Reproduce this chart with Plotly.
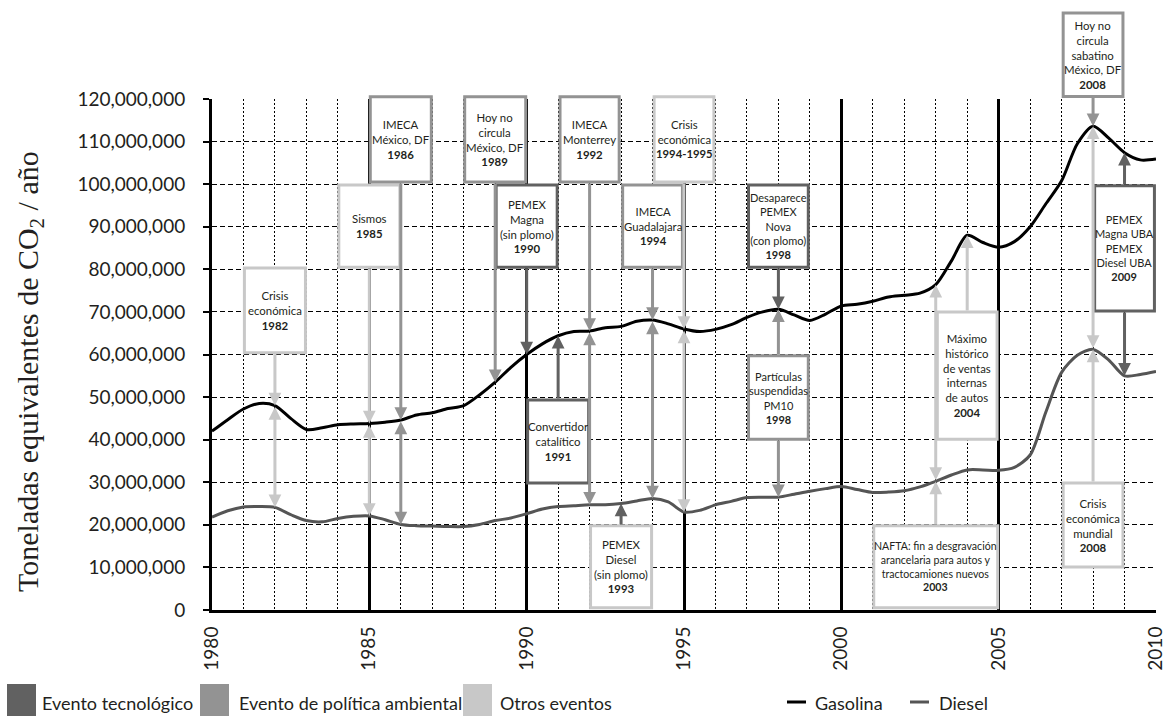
import plotly.graph_objects as go

# ---------------- data ----------------
years = [1980.0, 1980.5, 1981.0, 1981.5, 1982.0, 1982.5, 1983.0, 1983.5, 1984.0, 1984.5,
         1985.0, 1985.5, 1986.0, 1986.5, 1987.0, 1987.5, 1988.0, 1988.5, 1989.0, 1989.5,
         1990.0, 1990.5, 1991.0, 1991.5, 1992.0, 1992.5, 1993.0, 1993.5, 1994.0, 1994.5,
         1995.0, 1995.5, 1996.0, 1996.5, 1997.0, 1997.5, 1998.0, 1998.5, 1999.0, 1999.5,
         2000.0, 2000.5, 2001.0, 2001.5, 2002.0, 2002.5, 2003.0, 2003.5, 2004.0, 2004.5,
         2005.0, 2005.5, 2006.0, 2006.5, 2007.0, 2007.5, 2008.0, 2008.5, 2009.0, 2009.5,
         2010.0]

# millions of tonnes CO2 eq / year
gasolina_mt = [42.0, 44.7, 47.2, 48.5, 48.0, 45.0, 42.4, 42.8, 43.5, 43.7,
               43.8, 44.1, 44.6, 45.8, 46.3, 47.3, 48.0, 50.5, 53.5, 57.0,
               60.0, 62.5, 64.4, 65.4, 65.5, 66.3, 66.6, 67.8, 68.1, 67.2,
               66.0, 65.4, 65.9, 67.0, 68.7, 70.0, 70.6, 69.3, 68.0, 69.5,
               71.4, 71.8, 72.5, 73.5, 73.9, 74.4, 76.4, 82.0, 88.0, 86.3,
               85.2, 86.5, 90.0, 95.4, 100.8, 109.5, 113.6, 110.8, 107.4, 105.7,
               105.9]
diesel_mt = [21.8, 23.3, 24.2, 24.3, 24.1, 22.4, 21.0, 20.7, 21.5, 22.0,
             22.1, 21.2, 20.1, 19.8, 19.7, 19.6, 19.6, 20.1, 21.0, 21.6,
             22.6, 23.7, 24.3, 24.5, 24.7, 24.7, 25.0, 25.6, 26.2, 25.4,
             23.0, 23.4, 24.7, 25.5, 26.4, 26.5, 26.5, 27.2, 27.9, 28.5,
             29.0, 28.3, 27.6, 27.7, 28.0, 28.9, 30.2, 31.7, 32.9, 32.9,
             32.8, 33.5, 36.4, 46.5, 55.8, 59.8, 61.2, 58.7, 55.0, 55.3,
             56.0]

MILLION = 1_000_000
gasolina = [v * MILLION for v in gasolina_mt]
diesel = [v * MILLION for v in diesel_mt]

x_tick_years = [1980, 1985, 1990, 1995, 2000, 2005, 2010]
y_tick_values = [0, 10_000_000, 20_000_000, 30_000_000, 40_000_000, 50_000_000, 60_000_000,
                 70_000_000, 80_000_000, 90_000_000, 100_000_000, 110_000_000, 120_000_000]

event_years = [1982, 1985, 1986, 1989, 1990, 1991, 1992, 1993, 1994, 1995,
               1998, 1998, 2003, 2004, 2008, 2008, 2009]
event_labels = [
    "Crisis<br>económica<br><b>1982</b>",
    "Sismos<br><b>1985</b>",
    "IMECA<br>México, DF<br><b>1986</b>",
    "Hoy no<br>circula<br>México, DF<br><b>1989</b>",
    "PEMEX<br>Magna<br>(sin plomo)<br><b>1990</b>",
    "Convertidor<br>catalítico<br><b>1991</b>",
    "IMECA<br>Monterrey<br><b>1992</b>",
    "PEMEX<br>Diesel<br>(sin plomo)<br><b>1993</b>",
    "IMECA<br>Guadalajara<br><b>1994</b>",
    "Crisis<br>económica<br><b>1994-1995</b>",
    "Desaparece<br>PEMEX<br>Nova<br>(con plomo)<br><b>1998</b>",
    "Partículas<br>suspendidas<br>PM10<br><b>1998</b>",
    "NAFTA: fin a desgravación<br>arancelaria para autos y<br>tractocamiones nuevos<br><b>2003</b>",
    "Máximo<br>histórico<br>de ventas<br>internas<br>de autos<br><b>2004</b>",
    "Hoy no<br>circula<br>sabatino<br>México, DF<br><b>2008</b>",
    "Crisis<br>económica<br>mundial<br><b>2008</b>",
    "PEMEX<br>Magna UBA<br>PEMEX<br>Diesel UBA<br><b>2009</b>",
]
event_types = ["otros", "otros", "politica", "politica", "tecnologico", "tecnologico",
               "politica", "tecnologico", "politica", "otros", "tecnologico", "politica",
               "otros", "otros", "politica", "otros", "tecnologico"]

legend_types = ["tecnologico", "politica", "otros"]
legend_type_labels = ["Evento tecnológico", "Evento de política ambiental", "Otros eventos"]

# ---------------- layout / style ----------------
W, H = 1167, 716
L, R, T, B = 212, 11, 99, 106
PW, PH = W - L - R, H - T - B
YMAX = 120_000_000

COLORS = {"tecnologico": "#616161", "politica": "#939393", "otros": "#c8c8c8"}
TEXT_COLOR = "#231f20"
BOX_FONT = "Lato, sans-serif"
TICK_FONT = "Lato, sans-serif"

# box geometry: (half width in years, bottom [Mt], top [Mt], border-type override, font size)
box_geom = [
    (0.97, 60.4, 80.3, None, 11.4),
    (0.97, 80.5, 99.8, None, 11.4),
    (0.97, 100.5, 120.5, None, 11.4),
    (0.97, 100.5, 120.5, None, 11.4),
    (0.97, 80.5, 99.8, None, 11.4),
    (0.97, 29.8, 49.3, None, 11.4),
    (0.94, 100.5, 120.5, None, 11.4),
    (0.97, 0.5, 19.8, "otros", 11.4),
    (0.95, 80.5, 99.8, None, 11.3),
    (0.95, 100.5, 120.5, None, 11.3),
    (0.95, 80.5, 99.8, None, 11.0),
    (0.95, 40.1, 59.7, None, 11.0),
    (1.97, 0.5, 19.8, None, 10.6),
    (0.95, 40.1, 70.0, None, 11.4),
    (0.95, 120.6, 140.2, None, 11.4),
    (0.95, 10.1, 29.8, None, 11.4),
    (0.95, 70.2, 99.6, None, 11.0),
]
# arrows: (tail, tip) ; 'top'/'bottom' of box or series 'G'/'D'
arrow_specs = [
    [("bottom", "G"), ("G", "D")],
    [("bottom", "G"), ("G", "D")],
    [("bottom", "G"), ("G", "D")],
    [("bottom", "G")],
    [("bottom", "G")],
    [("top", "G")],
    [("bottom", "G"), ("G", "D")],
    [("top", "D")],
    [("bottom", "G"), ("G", "D")],
    [("bottom", "G"), ("G", "D")],
    [("bottom", "G")],
    [("top", "G"), ("bottom", "D")],
    [("top", "D"), ("D", "G")],
    [("top", "G")],
    [("bottom", "G")],
    [("top", "D"), ("D", "G")],
    [("top", "G"), ("bottom", "D")],
]

fig = go.Figure()
fig.add_trace(go.Scatter(x=years, y=gasolina, mode="lines", name="Gasolina",
                         line=dict(color="#000000", width=3, shape="spline", smoothing=0.8)))
fig.add_trace(go.Scatter(x=years, y=diesel, mode="lines", name="Diesel",
                         line=dict(color="#555555", width=3, shape="spline", smoothing=0.8)))

shapes = []
annotations = []


def series_value(name, yr):
    i = years.index(float(yr))
    return gasolina[i] if name == "G" else diesel[i]


for yr, label, etype, geom, arrows in zip(event_years, event_labels, event_types, box_geom, arrow_specs):
    hw, b_mt, t_mt, border_override, fsize = geom
    border = COLORS[border_override or etype]
    # boxes are positioned in paper units (fraction of y range) so they are not clipped at the top
    y0, y1 = b_mt * MILLION / YMAX, t_mt * MILLION / YMAX
    shapes.append(dict(type="rect", xref="x", yref="paper", x0=yr - hw, x1=yr + hw, y0=y0, y1=y1,
                       line=dict(color=border, width=3), fillcolor="white", layer="above"))
    annotations.append(dict(x=yr, y=(y0 + y1) / 2, xref="x", yref="paper", xanchor="center",
                            yanchor="middle", text=label, showarrow=False,
                            font=dict(family=BOX_FONT, size=fsize, color=TEXT_COLOR)))
    acolor = COLORS[etype]
    for tail, tip in arrows:
        tip_v = series_value(tip, yr)
        double = tail in ("G", "D")
        if tail == "top":
            tail_v = t_mt * MILLION
        elif tail == "bottom":
            tail_v = b_mt * MILLION
        else:
            tail_v = series_value(tail, yr)
        a = dict(x=yr, y=tip_v, ax=yr, ay=tail_v, xref="x", yref="y", axref="x", ayref="y",
                 text="", showarrow=True, arrowhead=2, arrowsize=0.85, arrowwidth=3,
                 arrowcolor=acolor, standoff=0, startstandoff=0)
        if double:
            a.update(arrowside="end+start", startarrowhead=2, startarrowsize=0.85)
        annotations.append(a)

# ---------------- legend (manual) ----------------
def px_x(p):
    return (p - L) / PW


def px_y(p):
    return (H - B - p) / PH


legend_square_px = [7, 200, 463]
legend_text_px = [40, 237, 498]
for t, lab, sx, tx in zip(legend_types, legend_type_labels, legend_square_px, legend_text_px):
    shapes.append(dict(type="rect", xref="paper", yref="paper", x0=px_x(sx), x1=px_x(sx + 29),
                       y0=px_y(684), y1=px_y(720), line=dict(width=0), fillcolor=COLORS[t]))
    annotations.append(dict(xref="paper", yref="paper", x=px_x(tx), y=px_y(703), xanchor="left",
                            yanchor="middle", text=lab, showarrow=False,
                            font=dict(family=TICK_FONT, size=18, color=TEXT_COLOR)))
for name, color, lx, tx in [("Gasolina", "#000000", 787, 813), ("Diesel", "#555555", 910, 937)]:
    shapes.append(dict(type="line", xref="paper", yref="paper", x0=px_x(lx), x1=px_x(lx + 19),
                       y0=px_y(702), y1=px_y(702), line=dict(color=color, width=3)))
    annotations.append(dict(xref="paper", yref="paper", x=px_x(tx), y=px_y(703), xanchor="left",
                            yanchor="middle", text=name, showarrow=False,
                            font=dict(family=TICK_FONT, size=18, color=TEXT_COLOR)))

# y axis title
annotations.append(dict(xref="paper", yref="paper", x=px_x(30), y=px_y(372), textangle=-90,
                        xanchor="center", yanchor="middle",
                        text="Toneladas equivalentes de CO<sub>2</sub> / año", showarrow=False,
                        font=dict(family="Liberation Serif, DejaVu Serif, serif", size=30,
                                  color=TEXT_COLOR)))

fig.update_layout(
    width=W, height=H, autosize=False,
    margin=dict(l=L, r=R, t=T, b=B, pad=0),
    plot_bgcolor="white", paper_bgcolor="white",
    showlegend=False,
    shapes=shapes, annotations=annotations,
    xaxis=dict(range=[1980, 2010], tickvals=x_tick_years, tickangle=-90,
               showgrid=True, gridcolor="#000000", gridwidth=2.5,
               minor=dict(dtick=1, tick0=1980, showgrid=True, gridcolor="#000000",
                          gridwidth=1, griddash="2px,2px"),
               showline=True, linecolor="#000000", linewidth=3, ticks="",
               ticklabelstandoff=6, zeroline=False, automargin=False,
               tickfont=dict(family=TICK_FONT, size=19, color=TEXT_COLOR)),
    yaxis=dict(range=[0, YMAX], tickvals=y_tick_values, tickformat=",",
               showgrid=True, gridcolor="#000000", gridwidth=1, griddash="5px,3px",
               showline=True, linecolor="#000000", linewidth=3,
               ticks="outside", ticklen=6, tickcolor="#000000", tickwidth=1.5,
               ticklabelstandoff=14, zeroline=False, automargin=False,
               tickfont=dict(family=TICK_FONT, size=19, color=TEXT_COLOR)),
)

fig.write_html(
    "out.html",
    config={"displayModeBar": False},
    post_script=("document.body.style.margin='0px';"
                 "document.body.style.overflow='hidden';"
                 "document.documentElement.style.overflow='hidden';"),
)
